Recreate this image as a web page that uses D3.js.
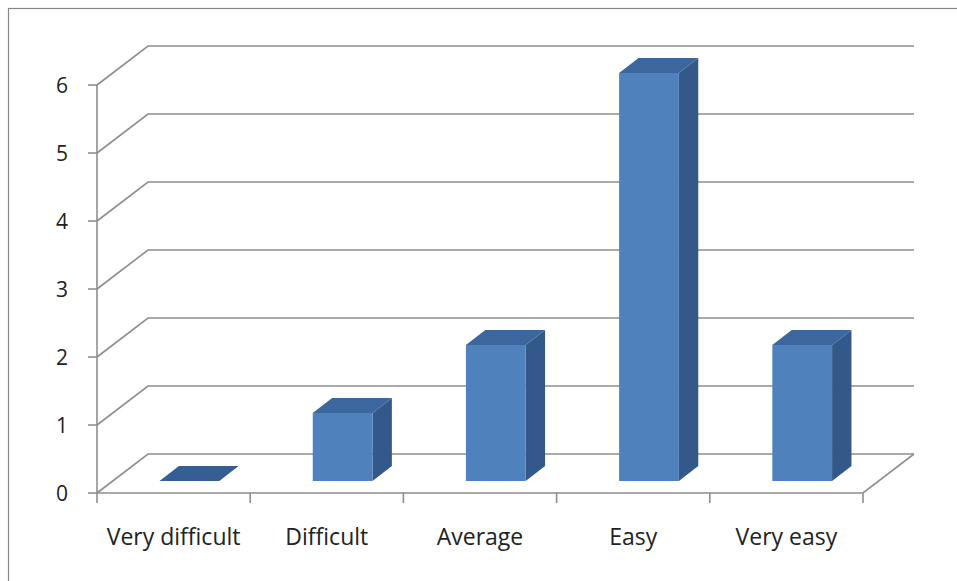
<!DOCTYPE html>
<html>
<head>
<meta charset="utf-8">
<script src="https://cdn.jsdelivr.net/npm/d3@7"></script>
<style>
  html, body { margin: 0; padding: 0; background: #fff; }
  svg { display: block; }
  text { font-family: "Open Sans", "Noto Sans", sans-serif; fill: #222; }
</style>
</head>
<body>
<svg id="chart" width="957" height="581"></svg>
<script>
// Survey answers: how hard was it?
const categories = ["Very difficult", "Difficult", "Average", "Easy", "Very easy"];
const counts = [0, 1, 2, 6, 2];
const yTicks = [0, 1, 2, 3, 4, 5, 6];

const svg = d3.select("#chart");
const W = 957, H = 581;

// Front plane of the 3D plot
const x = d3.scaleBand().domain(categories).range([97, 863]).padding(0);
const y = d3.scaleLinear().domain([0, 6]).range([493, 85]);

// Oblique depth vector (full depth of the floor)
const DEPTH = { dx: 51, dy: -39 };
const proj = (px, py, z) => [px + DEPTH.dx * z, py + DEPTH.dy * z];

// Bar placement within band and depth
const barStart = 0.305, barWidth = 0.39;
const z0 = 0.31, z1 = 0.69;

const colors = { front: "#4f81bd", top: "#3c679e", side: "#32598a" };
const gridColor = "#8e8e8e";

// Chart border
svg.append("rect")
  .attr("x", 8.5).attr("y", 8.5)
  .attr("width", W).attr("height", H)
  .attr("fill", "#fff")
  .attr("stroke", "#868686").attr("stroke-width", 1.2);

const grid = svg.append("g")
  .attr("fill", "none")
  .attr("stroke", gridColor)
  .attr("stroke-width", 1.6);

// Back wall gridlines + side wall diagonals
const x0 = x.range()[0], xEnd = x.range()[1];
yTicks.forEach(v => {
  const [bx, by] = proj(x0, y(v), 1);
  const [ex] = proj(xEnd, y(v), 1);
  grid.append("path").attr("d", d3.line()([[x0, y(v)], [bx, by], [ex, by]]));
});

// Floor: front edge and right diagonal
const [frx, fry] = proj(xEnd, y(0), 1);
grid.append("path").attr("d", d3.line()([[x0, y(0)], [xEnd, y(0)], [frx, fry]]));

// Value axis line and ticks
grid.append("line")
  .attr("x1", x0).attr("x2", x0)
  .attr("y1", y(6)).attr("y2", y(0));
yTicks.forEach(v => {
  grid.append("line")
    .attr("x1", x0 - 9).attr("x2", x0)
    .attr("y1", y(v)).attr("y2", y(v));
});

// Category tick marks at band edges
const edges = categories.map(c => x(c)).concat([xEnd]);
edges.forEach(ex => {
  grid.append("line")
    .attr("x1", ex).attr("x2", ex)
    .attr("y1", y(0)).attr("y2", y(0) + 10);
});

// Bars
const bars = svg.append("g");
categories.forEach((c, i) => {
  const v = counts[i];
  const bx = x(c) + x.bandwidth() * barStart;
  const bw = x.bandwidth() * barWidth;
  const base = y(0), top = y(v);
  const fl = proj(bx, top, z0), fr = proj(bx + bw, top, z0);
  const bl = proj(bx, top, z1), br = proj(bx + bw, top, z1);
  const frb = proj(bx + bw, base, z0), brb = proj(bx + bw, base, z1);
  const flb = proj(bx, base, z0);
  if (v > 0) {
    // right side face
    bars.append("path")
      .attr("d", d3.line()([fr, br, brb, frb]) + "Z")
      .attr("fill", colors.side);
    // front face
    bars.append("path")
      .attr("d", d3.line()([fl, fr, frb, flb]) + "Z")
      .attr("fill", colors.front);
  }
  // top face
  bars.append("path")
    .attr("d", d3.line()([fl, fr, br, bl]) + "Z")
    .attr("fill", v > 0 ? colors.top : "#355f93");
});

// Value labels
svg.append("g").selectAll("text")
  .data(yTicks).join("text")
  .attr("x", 68)
  .attr("y", d => y(d))
  .attr("dy", "0.36em")
  .attr("text-anchor", "end")
  .attr("font-size", 21)
  .text(d => d);

// Category labels
svg.append("g").selectAll("text")
  .data(categories).join("text")
  .attr("x", d => x(d) + x.bandwidth() / 2)
  .attr("y", 545)
  .attr("text-anchor", "middle")
  .attr("font-size", 23)
  .text(d => d);
</script>
</body>
</html>
